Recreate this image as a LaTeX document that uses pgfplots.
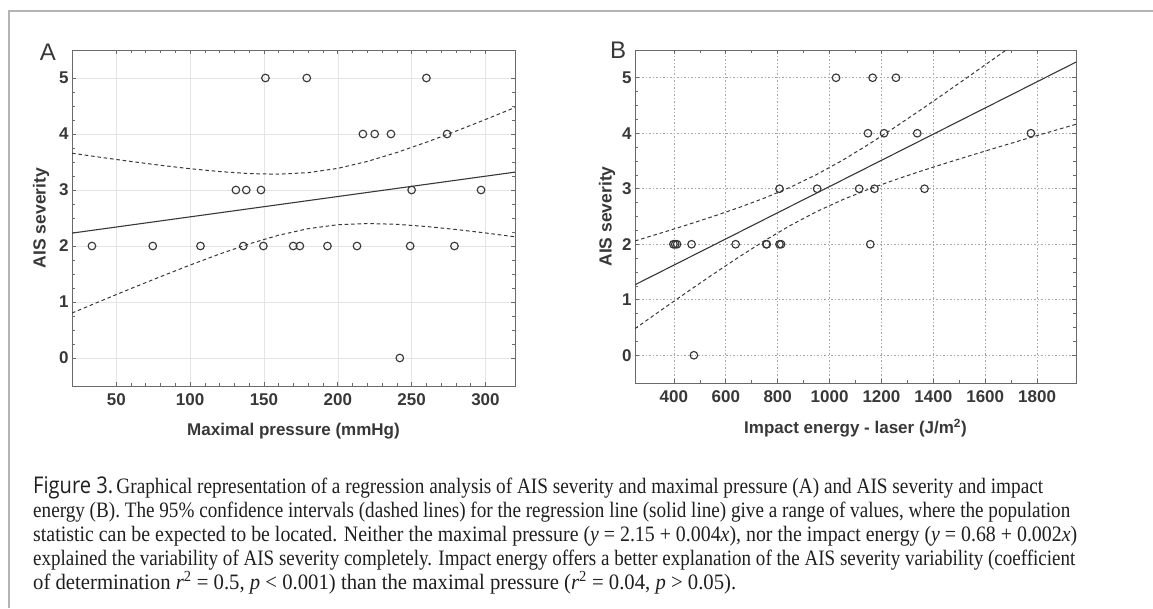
\documentclass[border=0pt]{standalone}
\usepackage{fontspec}
\setmainfont{Liberation Serif}
\newfontfamily\arial{Liberation Sans}
\newfontfamily\arialb{Liberation Sans Bold}
\newfontfamily\capsans{Open Sans}
\usepackage{graphicx}
\usepackage{pgfplots}
\pgfplotsset{compat=1.18}
\usepackage{pgfplotstable}

\pgfplotstableread{
x y
151 5
179 5
260 5
217 4
225 4
236 4
274 4
131 3
138 3
148 3
250 3
297 3
33.5 2
74.7 2
107 2
136 2
149.6 2
169.8 2
174.3 2
193 2
213 2
249 2
279 2
242 0
}\ptsA

\pgfplotstableread{
x y
1025 5
1166 5
1256 5
1148 4
1210 4
1338 4
1776 4
807 3
952 3
1114 3
1173 3
1366 3
398 2
405 2
412 2
468 2
638 2
756 2
758 2
807 2
813 2
1157 2
477 0
}\ptsB

\pgfplotstableread{
x up lo
20 3.657 0.803
40 3.581 1.023
60 3.509 1.241
80 3.441 1.453
100 3.380 1.660
120 3.329 1.857
140 3.293 2.038
160 3.282 2.193
180 3.310 2.310
200 3.386 2.380
220 3.510 2.402
240 3.670 2.387
260 3.853 2.348
280 4.051 2.295
300 4.259 2.233
320 4.473 2.164
}\ciA

\pgfplotstableread{
x up lo
250 2.060 0.480
350 2.202 0.810
450 2.348 1.136
550 2.500 1.457
650 2.660 1.768
750 2.834 2.066
850 3.030 2.342
950 3.256 2.588
1050 3.513 2.802
1150 3.798 2.990
1250 4.102 3.158
1350 4.417 3.315
1450 4.740 3.464
1550 5.068 3.608
1650 5.398 3.750
1750 5.731 3.889
1850 6.066 4.026
1950 6.402 4.162
}\ciB

\definecolor{ink}{HTML}{383838}
\definecolor{axgray}{HTML}{6A6A6A}
\definecolor{framegray}{HTML}{B4B4B4}

\pgfplotsset{
  panel/.style={
    scale only axis,
    axis line style={draw=axgray, line width=0.9pt},
    tick style={draw=axgray, line width=0.7pt},
    tick align=inside,
    major tick length=4pt, minor tick length=2.6pt,
    xtick pos=both, ytick pos=both,
    xticklabel pos=lower, yticklabel pos=left,
    ymin=-0.5, ymax=5.5, ytick={0,1,2,3,4,5}, minor y tick num=3,
    ticklabel style={font=\arialb\fontsize{17}{17}\selectfont, text=ink},
    /pgf/number format/assume math mode=true,
    /pgf/number format/1000 sep={},
    scaled x ticks=false,
    xticklabel style={yshift=-4pt},
    every axis x label/.style={at={(axis description cs:0.5,0)}, anchor=center, yshift=-45pt,
      font=\arialb\fontsize{17}{17}\selectfont, text=ink},
    grid=major,
  },
  pts/.style={only marks, mark=o, mark size=3.8pt, mark options={line width=1.15pt, draw=ink}},
  reg/.style={line width=1.1pt, ink, no marks},
  ci/.style={line width=1pt, ink, no marks, dash pattern=on 3.6pt off 2.8pt},
}

\begin{document}
\begin{tikzpicture}
\useasboundingbox (0,0) rectangle (1153pt,608pt);
\draw[framegray, line width=1.5pt] (9pt,0pt) -- (9pt,597pt) -- (1153pt,597pt);

% Panel A
\begin{axis}[panel,
  at={(72pt,222pt)}, anchor=south west, width=443pt, height=336pt,
  xmin=20, xmax=320, xtick={50,100,150,200,250,300}, minor x tick num=4,
  major grid style={draw=black!10, line width=0.6pt},
  xlabel={Maximal pressure (mmHg)},
  ylabel={AIS severity},
  every axis y label/.style={at={([xshift=-31pt]axis description cs:0,0.5)}, rotate=90, anchor=center,
      font=\arialb\fontsize{17.5}{17.5}\selectfont, text=ink},
]
\addplot[ci] table[x=x, y=up] {\ciA};
\addplot[ci] table[x=x, y=lo] {\ciA};
\addplot[reg] coordinates {(20,2.230) (320,3.319)};
\addplot[pts] table[x=x, y=y] {\ptsA};
\end{axis}

% Panel B
\begin{axis}[panel,
  at={(635pt,225pt)}, anchor=south west, width=441pt, height=333pt,
  xmin=250, xmax=1950, xtick={400,600,800,1000,1200,1400,1600,1800}, minor x tick num=1,
  major grid style={draw=black!35, line width=0.7pt, dash pattern=on 1.5pt off 2pt},
  xlabel={Impact energy - laser (J/m\textsuperscript{2})},
  ylabel={AIS severity},
  every axis y label/.style={at={([xshift=-28pt]axis description cs:0,0.5)}, rotate=90, anchor=center,
      font=\arialb\fontsize{17.5}{17.5}\selectfont, text=ink},
]
\addplot[ci] table[x=x, y=up] {\ciB};
\addplot[ci] table[x=x, y=lo] {\ciB};
\addplot[reg] coordinates {(250,1.270) (1950,5.282)};
\addplot[pts] table[x=x, y=y] {\ptsB};
\end{axis}

\node[font=\arial\fontsize{24}{24}\selectfont, text=ink] at (48pt,556pt) {A};
\node[font=\arial\fontsize{24}{24}\selectfont, text=ink] at (618pt,558pt) {B};

% Caption
\begin{scope}[every node/.style={anchor=base west, inner sep=0pt, text=black!88, font=\fontsize{22}{26}\selectfont}]
\node at (33pt,115pt) {\resizebox{1010pt}{\height}{{\capsans\fontsize{23}{26}\selectfont Figure 3.}\,Graphical representation of a regression analysis of AIS severity and maximal pressure (A) and AIS severity and impact}};
\node at (33pt,91pt) {\resizebox{1037pt}{\height}{energy (B). The 95\% confidence intervals (dashed lines) for the regression line (solid line) give a range of values, where the population}};
\node at (33pt,67pt) {\resizebox{1044pt}{\height}{statistic can be expected to be located. Neither the maximal pressure (\textit{y} = 2.15 + 0.004\textit{x}), nor the impact energy (\textit{y} = 0.68 + 0.002\textit{x})}};
\node at (33pt,43pt) {\resizebox{1042pt}{\height}{explained the variability of AIS severity completely. Impact energy offers a better explanation of the AIS severity variability (coefficient}};
\node at (33pt,19pt) {\resizebox{703pt}{\height}{of determination \textit{r}\textsuperscript{2} = 0.5, \textit{p} < 0.001) than the maximal pressure (\textit{r}\textsuperscript{2} = 0.04, \textit{p} > 0.05).}};
\end{scope}
\end{tikzpicture}
\end{document}
